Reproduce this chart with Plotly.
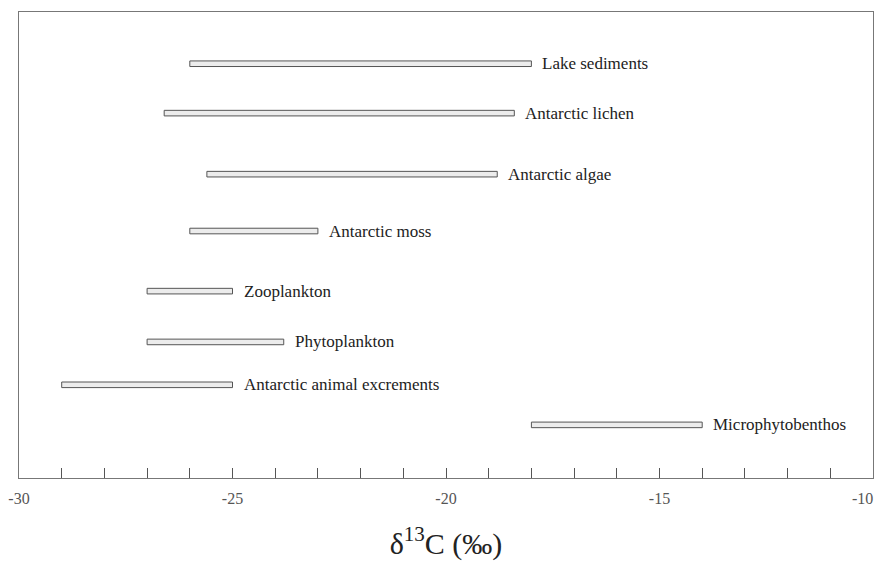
import plotly.graph_objects as go

categories = ["Lake sediments", "Antarctic lichen", "Antarctic algae", "Antarctic moss",
              "Zooplankton", "Phytoplankton", "Antarctic animal excrements", "Microphytobenthos"]
range_min = [-26.0, -26.6, -25.6, -26.0, -27.0, -27.0, -29.0, -18.0]
range_max = [-18.0, -18.4, -18.8, -23.0, -25.0, -23.8, -25.0, -14.0]

# vertical row positions (layout, top = 0)
rows = [11.1, 21.7, 34.8, 47.0, 59.9, 70.8, 80.0, 88.6]

major_ticks = [-30, -25, -20, -15]
major_text = ["-30", "-25", "-20", "-15"]

FONT = "Liberation Serif, Times New Roman, serif"

fig = go.Figure()
fig.add_trace(go.Bar(
    y=rows,
    x=[b - a for a, b in zip(range_min, range_max)],
    base=range_min,
    orientation="h",
    width=1.2,
    marker=dict(color="#ececec", line=dict(color="#555555", width=1)),
    hoverinfo="skip",
    showlegend=False,
))

for name, xe, yr in zip(categories, range_max, rows):
    fig.add_annotation(x=xe, y=yr, text=name, showarrow=False, xanchor="left",
                       xshift=9, yanchor="middle",
                       font=dict(family=FONT, size=17, color="#222222"))

# last tick label, right-aligned at the axis end
fig.add_annotation(x=-10, xref="x", y=0, yref="paper", text="-10", showarrow=False,
                   xanchor="right", yanchor="top", yshift=-10, xshift=2,
                   font=dict(family=FONT, size=16, color="#555555"))

fig.update_layout(
    width=879, height=562,
    margin=dict(l=19, r=6, t=12, b=84),
    plot_bgcolor="white", paper_bgcolor="white",
    font=dict(family=FONT),
    xaxis=dict(
        range=[-30, -10], tickmode="array", tickvals=major_ticks, ticktext=major_text,
        ticks="inside", ticklen=10, tickcolor="#555555", tickwidth=1,
        minor=dict(tick0=-30, dtick=1, ticks="inside", ticklen=10,
                   tickcolor="#555555", tickwidth=1, showgrid=False),
        showline=True, linecolor="#777777", linewidth=1, mirror=True,
        showgrid=False, zeroline=False, ticklabelstandoff=6,
        tickfont=dict(family=FONT, size=16, color="#555555"),
        title=dict(text="δ<sup>13</sup>C (‰)", font=dict(family=FONT, size=30, color="#222222"),
                   standoff=26),
    ),
    yaxis=dict(
        range=[100, 0], showticklabels=False, ticks="",
        showline=True, linecolor="#777777", linewidth=1, mirror=True,
        showgrid=False, zeroline=False,
    ),
)

fig.write_html("out.html")
